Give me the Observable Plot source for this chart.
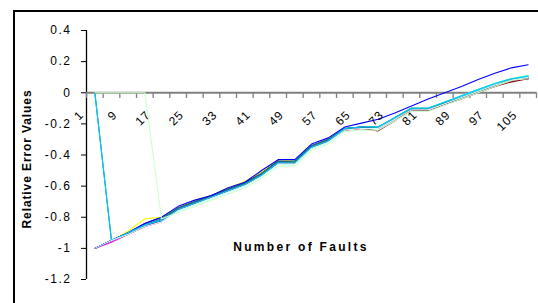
<!DOCTYPE html>
<html><head><meta charset="utf-8">
<script src="https://cdn.jsdelivr.net/npm/d3@7"></script>
<script src="https://cdn.jsdelivr.net/npm/@observablehq/plot@0.6"></script>
<style>
html,body{margin:0;padding:0;background:#fff;overflow:hidden;}
#wrap{position:relative;width:538px;height:303px;overflow:hidden;}
#frame{position:absolute;left:13px;top:10px;width:600px;height:400px;border:2px solid #000;box-sizing:border-box;pointer-events:none;}
#wrap svg{position:absolute;left:0;top:0;}
</style></head><body><div id="wrap"><div id="frame"></div></div>
<script>
// Categories (number of faults)
const categories = [1,5,9,13,17,21,25,29,33,37,41,45,49,53,57,61,65,69,73,77,81,85,89,93,97,101,105];
const yTicks = [-1.2,-1,-0.8,-0.6,-0.4,-0.2,0,0.2,0.4];
const yTickLabels = ["-1.2","-1","-0.8","-0.6","-0.4","-0.2","0","0.2","0.4"];

const seriesNames  = ["S1","S2","S3","S4","S5","S6","S7","S8","S9","S10","S11"];
const seriesColors = ["#000080","#FF00FF","#FFFF00","#00FFFF","#800080","#800000","#008080","#0000FF","#00CCFF","#CCFFFF","#CCFFCC"];

const s1  = [-1.00,-0.95,-0.90,-0.84,-0.80,-0.74,-0.70,-0.66,-0.62,-0.58,-0.51,-0.44,-0.44,-0.34,-0.30,-0.23,-0.22,-0.23,-0.16,-0.10,-0.11,-0.07,-0.03,0.01,0.05,0.08,0.09];
const s2  = [-1.00,-0.96,-0.91,-0.86,-0.83,-0.75,-0.71,-0.67,-0.63,-0.59,-0.53,-0.45,-0.45,-0.35,-0.31,-0.24,-0.23,-0.23,-0.17,-0.11,-0.11,-0.07,-0.03,0.01,0.05,0.08,0.10];
const s3  = [-1.00,-0.95,-0.89,-0.81,-0.80,-0.74,-0.69,-0.66,-0.61,-0.57,-0.51,-0.43,-0.44,-0.34,-0.30,-0.23,-0.22,-0.22,-0.16,-0.10,-0.10,-0.06,-0.02,0.02,0.06,0.09,0.11];
const s4  = [-1.00,-0.95,-0.90,-0.85,-0.82,-0.75,-0.71,-0.67,-0.63,-0.59,-0.53,-0.45,-0.45,-0.35,-0.31,-0.23,-0.22,-0.22,-0.16,-0.10,-0.10,-0.06,-0.02,0.02,0.06,0.09,0.11];
const s5  = [-1.00,-0.95,-0.90,-0.85,-0.82,-0.74,-0.70,-0.66,-0.62,-0.58,-0.52,-0.44,-0.45,-0.34,-0.30,-0.23,-0.22,-0.23,-0.17,-0.11,-0.11,-0.07,-0.03,0.01,0.04,0.08,0.09];
const s6  = [-1.00,-0.95,-0.91,-0.86,-0.82,-0.75,-0.71,-0.67,-0.63,-0.59,-0.53,-0.45,-0.45,-0.35,-0.31,-0.24,-0.23,-0.245,-0.18,-0.11,-0.115,-0.075,-0.04,0.00,0.04,0.07,0.09];
const s7  = [0.00,-0.95,-0.90,-0.85,-0.81,-0.74,-0.70,-0.66,-0.62,-0.58,-0.52,-0.44,-0.44,-0.34,-0.30,-0.23,-0.22,-0.22,-0.16,-0.10,-0.10,-0.065,-0.03,0.01,0.05,0.085,0.10];
const s8  = [-1.00,-0.95,-0.90,-0.84,-0.80,-0.73,-0.69,-0.66,-0.61,-0.575,-0.50,-0.43,-0.43,-0.33,-0.29,-0.22,-0.195,-0.17,-0.13,-0.085,-0.04,0.00,0.04,0.085,0.125,0.16,0.18];
const s9  = [0.00,-0.95,-0.90,-0.85,-0.82,-0.75,-0.71,-0.67,-0.63,-0.59,-0.53,-0.45,-0.45,-0.35,-0.31,-0.23,-0.22,-0.22,-0.16,-0.10,-0.10,-0.06,-0.02,0.02,0.06,0.09,0.105];
const s10 = [-1.00,-0.95,-0.91,-0.86,-0.83,-0.76,-0.72,-0.68,-0.64,-0.60,-0.54,-0.46,-0.46,-0.36,-0.32,-0.24,-0.23,-0.23,-0.17,-0.11,-0.11,-0.07,-0.03,0.01,0.05,0.08,0.10];
const s11 = [0.00,0.00,0.00,0.00,-0.81,-0.77,-0.73,-0.69,-0.65,-0.61,-0.55,-0.47,-0.47,-0.37,-0.33,-0.25,-0.24,-0.24,-0.18,-0.12,-0.12,-0.08,-0.04,0.00,0.04,0.08,0.09];

const seriesValues = [s1,s2,s3,s4,s5,s6,s7,s8,s9,s10,s11];
const rows = [];
seriesValues.forEach((vals, k) => vals.forEach((v, i) => rows.push({s: seriesNames[k], i, v})));

const idx = categories.map((c, i) => i);
const labelIdx = idx.filter(i => i % 2 === 0);
const boundaries = idx.concat([categories.length]).map(i => i - 0.5);

const chart = Plot.plot({
  width: 538, height: 303,
  marginLeft: 86, marginRight: 2, marginTop: 30, marginBottom: 24,
  style: {fontFamily: "'Liberation Sans', Arial, sans-serif", fontSize: "12px", background: "transparent", overflow: "visible", color: "#000"},
  x: {type: "linear", domain: [-0.5, categories.length - 0.5], axis: null},
  y: {domain: [-1.2, 0.4], ticks: yTicks, tickSize: 5, tickPadding: 10, label: null,
      tickFormat: d => yTickLabels[yTicks.indexOf(d)]},
  color: {domain: seriesNames, range: seriesColors},
  marks: [
    Plot.ruleX([-0.5], {y1: -1.2, y2: 0.4, stroke: "#000", strokeWidth: 1.3}),
    Plot.ruleY([0], {x1: -0.5, x2: categories.length - 0.5, stroke: "#808080", strokeWidth: 2}),
    Plot.ruleX(boundaries, {x: d => d, y1: 0, y2: -0.037, stroke: "#808080", strokeWidth: 1.3}),
    Plot.line(rows, {x: "i", y: "v", z: "s", stroke: "s", strokeWidth: 1.1}),
    Plot.text(labelIdx, {x: d => d, y: 0, text: d => String(categories[d]), rotate: -45, textAnchor: "end", dx: -13, dy: 20, fill: "#000", fontSize: 12}),
    Plot.text(["Relative Error Values"], {frameAnchor: "left", dx: -59, dy: 4, rotate: -90, textAnchor: "middle", fontWeight: "bold", fontSize: 12, fill: "#000", lineAnchor: "middle"}),
    Plot.text(["Number of Faults"], {frameAnchor: "bottom", dx: -10.5, dy: -32, textAnchor: "middle", fontWeight: "bold", fontSize: 12, fill: "#000", lineAnchor: "middle"})
  ]
});
document.getElementById("wrap").insertBefore(chart, document.getElementById("frame"));
const tg = chart.querySelectorAll('g[aria-label="text"]');
if (tg[0]) tg[0].setAttribute("letter-spacing", "1");
if (tg[1]) tg[1].setAttribute("letter-spacing", "0.9");
if (tg[2]) tg[2].setAttribute("letter-spacing", "2.3");
chart.querySelectorAll('g[aria-label^="y-axis"] text').forEach(t => t.setAttribute("letter-spacing", "1.5"));
</script></body></html>
